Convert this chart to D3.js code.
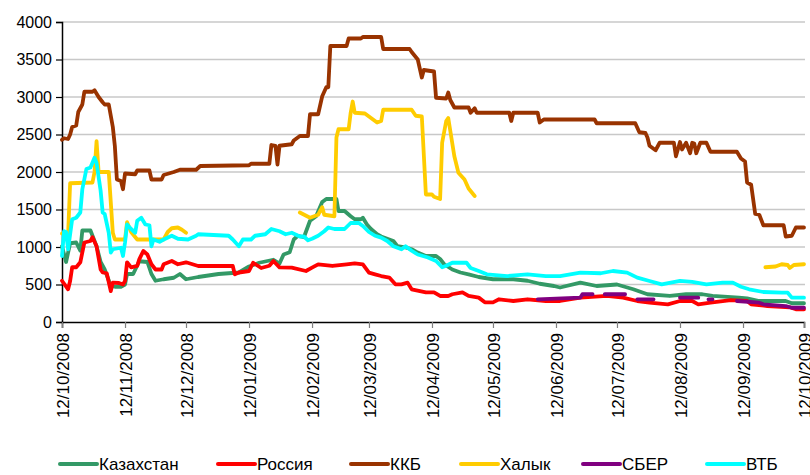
<!DOCTYPE html>
<html>
<head>
<meta charset="utf-8">
<script src="https://cdn.jsdelivr.net/npm/d3@7"></script>
<style>
  body { margin: 0; background: #fff; }
  text { font-family: "Liberation Sans", Arial, sans-serif; fill: #000; }
</style>
</head>
<body>
<script>
// series values, [date, value]; null = no data
const kazakhstan = [
  ["2008-10-12",1010],["2008-10-14",800],["2008-10-16",1050],["2008-10-19",1060],["2008-10-21",950],
  ["2008-10-22",1220],["2008-10-26",1220],["2008-10-27",1150],["2008-10-29",1010],["2008-10-31",800],
  ["2008-11-02",700],["2008-11-05",480],["2008-11-07",470],["2008-11-10",470],["2008-11-12",500],
  ["2008-11-13",640],["2008-11-16",640],["2008-11-19",810],["2008-11-23",800],["2008-11-25",640],
  ["2008-11-27",550],["2008-12-01",570],["2008-12-06",590],["2008-12-09",640],["2008-12-12",570],
  ["2008-12-18",600],["2008-12-28",640],["2009-01-07",660],["2009-01-12",740],["2009-01-17",790],
  ["2009-01-24",830],["2009-01-27",780],["2009-01-29",900],["2009-02-01",930],["2009-02-03",1100],
  ["2009-02-05",1150],["2009-02-08",1130],["2009-02-11",1350],["2009-02-14",1410],["2009-02-17",1600],
  ["2009-02-19",1640],["2009-02-24",1640],["2009-02-25",1480],["2009-02-28",1480],["2009-03-03",1410],
  ["2009-03-05",1370],["2009-03-08",1370],["2009-03-09",1390],["2009-03-11",1300],["2009-03-13",1240],
  ["2009-03-16",1170],["2009-03-18",1140],["2009-03-22",1100],["2009-03-24",1080],["2009-03-26",1010],
  ["2009-03-30",995],["2009-04-02",970],["2009-04-05",925],["2009-04-09",880],["2009-04-14",880],
  ["2009-04-16",840],["2009-04-18",770],["2009-04-22",700],["2009-04-26",660],["2009-04-30",636],
  ["2009-05-05",600],["2009-05-12",570],["2009-05-22",570],["2009-05-29",550],["2009-06-04",510],
  ["2009-06-11",480],["2009-06-14",460],["2009-06-24",525],["2009-07-02",480],["2009-07-12",500],
  ["2009-07-20",436],["2009-07-27",370],["2009-08-07",347],["2009-08-15",370],["2009-08-23",370],
  ["2009-08-28",347],["2009-09-10",325],["2009-09-14",315],["2009-09-20",280],["2009-10-03",280],
  ["2009-10-06",250],["2009-10-12",250]
];
const russia = [
  ["2008-10-12",550],["2008-10-15",436],["2008-10-16",547],["2008-10-17",730],["2008-10-19",730],
  ["2008-10-21",796],["2008-10-23",1060],["2008-10-26",1080],["2008-10-27",1130],["2008-10-29",1010],
  ["2008-10-31",700],["2008-11-01",660],["2008-11-03",650],["2008-11-05",413],["2008-11-06",525],
  ["2008-11-09",520],["2008-11-11",500],["2008-11-12",547],["2008-11-13",796],["2008-11-15",729],
  ["2008-11-18",747],["2008-11-19",836],["2008-11-21",947],["2008-11-23",900],["2008-11-25",770],
  ["2008-11-27",700],["2008-11-30",700],["2008-12-01",770],["2008-12-05",813],["2008-12-08",770],
  ["2008-12-12",796],["2008-12-18",747],["2009-01-04",747],["2009-01-05",636],["2009-01-07",660],
  ["2009-01-12",680],["2009-01-14",790],["2009-01-18",720],["2009-01-22",750],["2009-01-24",813],
  ["2009-01-27",729],["2009-02-02",725],["2009-02-09",680],["2009-02-12",725],["2009-02-15",769],
  ["2009-02-22",747],["2009-03-01",769],["2009-03-05",782],["2009-03-09",769],["2009-03-12",658],
  ["2009-03-15",636],["2009-03-18",613],["2009-03-22",592],["2009-03-25",502],["2009-03-28",502],
  ["2009-03-31",525],["2009-04-02",436],["2009-04-09",395],["2009-04-13",395],["2009-04-16",347],
  ["2009-04-20",347],["2009-04-22",370],["2009-04-27",395],["2009-04-30",347],["2009-05-05",325],
  ["2009-05-08",262],["2009-05-12",262],["2009-05-15",303],["2009-05-22",280],["2009-05-29",303],
  ["2009-06-07",280],["2009-06-14",280],["2009-06-24",325],["2009-07-07",347],["2009-07-15",325],
  ["2009-07-22",280],["2009-07-28",258],["2009-08-06",236],["2009-08-12",280],["2009-08-18",280],
  ["2009-08-21",236],["2009-08-27",258],["2009-09-06",293],["2009-09-14",280],["2009-09-16",236],
  ["2009-09-24",213],["2009-10-05",196],["2009-10-08",170],["2009-10-12",170]
];
const kkb = [
  ["2008-10-12",2430],["2008-10-13",2450],["2008-10-15",2440],["2008-10-16",2500],["2008-10-17",2600],
  ["2008-10-19",2620],["2008-10-20",2800],["2008-10-22",2900],["2008-10-23",3070],["2008-10-27",3070],
  ["2008-10-28",3090],["2008-10-30",3000],["2008-11-01",2930],["2008-11-02",2900],["2008-11-04",2900],
  ["2008-11-06",2600],["2008-11-07",2345],["2008-11-08",1900],["2008-11-10",1880],["2008-11-11",1770],
  ["2008-11-12",1980],["2008-11-17",1970],["2008-11-18",2020],["2008-11-24",2020],["2008-11-25",1900],
  ["2008-11-30",1900],["2008-12-01",1960],["2008-12-06",2000],["2008-12-09",2030],["2008-12-17",2030],
  ["2008-12-19",2080],["2009-01-12",2090],["2009-01-13",2110],["2009-01-22",2110],["2009-01-23",2360],
  ["2009-01-25",2350],["2009-01-26",2100],["2009-01-27",2350],["2009-02-02",2370],["2009-02-03",2420],
  ["2009-02-06",2480],["2009-02-10",2480],["2009-02-11",2770],["2009-02-15",2770],["2009-02-17",3010],
  ["2009-02-19",3130],["2009-02-20",3130],["2009-02-21",3680],["2009-03-01",3680],["2009-03-02",3780],
  ["2009-03-08",3780],["2009-03-09",3800],["2009-03-18",3800],["2009-03-19",3640],["2009-04-01",3640],
  ["2009-04-02",3600],["2009-04-05",3500],["2009-04-07",3260],["2009-04-08",3360],["2009-04-13",3340],
  ["2009-04-14",2990],["2009-04-19",2980],["2009-04-20",3060],["2009-04-21",2960],["2009-04-23",2860],
  ["2009-04-30",2860],["2009-05-01",2790],["2009-05-03",2850],["2009-05-04",2790],["2009-05-20",2790],
  ["2009-05-21",2680],["2009-05-22",2790],["2009-06-03",2790],["2009-06-04",2660],["2009-06-06",2700],
  ["2009-07-01",2700],["2009-07-02",2650],["2009-07-21",2650],["2009-07-23",2530],["2009-07-26",2520],
  ["2009-07-27",2460],["2009-07-28",2350],["2009-07-31",2290],["2009-08-02",2390],["2009-08-09",2390],
  ["2009-08-10",2210],["2009-08-12",2400],["2009-08-13",2300],["2009-08-15",2390],["2009-08-17",2250],
  ["2009-08-18",2390],["2009-08-19",2380],["2009-08-20",2250],["2009-08-22",2390],["2009-08-25",2390],
  ["2009-08-27",2270],["2009-09-09",2270],["2009-09-11",2180],["2009-09-13",2140],["2009-09-14",1860],
  ["2009-09-16",1830],["2009-09-18",1440],["2009-09-20",1430],["2009-09-22",1290],["2009-10-02",1290],
  ["2009-10-03",1140],["2009-10-06",1150],["2009-10-08",1260],["2009-10-12",1260]
];
const halyk = [
  ["2008-10-12",1180],["2008-10-15",1170],["2008-10-16",1850],["2008-10-27",1860],["2008-10-28",2000],
  ["2008-10-29",2410],["2008-10-30",2000],["2008-11-04",2000],["2008-11-06",1190],["2008-11-07",1100],
  ["2008-11-12",1100],["2008-11-13",1330],["2008-11-15",1200],["2008-11-18",1100],["2008-12-01",1100],
  ["2008-12-03",1200],["2008-12-05",1250],["2008-12-08",1260],["2008-12-10",1230],["2008-12-12",1190],
  ["2008-12-13",null],
  ["2009-02-06",1460],["2009-02-11",1390],["2009-02-15",1430],["2009-02-17",1530],["2009-02-18",1430],
  ["2009-02-23",1410],["2009-02-24",2460],["2009-02-25",2570],["2009-03-02",2570],["2009-03-03",2790],
  ["2009-03-04",2940],["2009-03-05",2790],["2009-03-10",2780],["2009-03-12",2740],["2009-03-16",2660],
  ["2009-03-18",2680],["2009-03-19",2830],["2009-04-02",2830],["2009-04-04",2750],["2009-04-07",2740],
  ["2009-04-09",1700],["2009-04-12",1700],["2009-04-13",1670],["2009-04-16",1640],["2009-04-17",2390],
  ["2009-04-19",2680],["2009-04-20",2720],["2009-04-23",2210],["2009-04-25",1990],["2009-04-28",1900],
  ["2009-04-30",1780],["2009-05-03",1680],
  ["2009-05-04",null],
  ["2009-09-23",730],["2009-09-28",740],["2009-10-01",770],["2009-10-04",760],["2009-10-05",720],
  ["2009-10-07",760],["2009-10-12",770]
];
const sber = [
  ["2009-06-03",303],["2009-06-24",325],["2009-06-25",370],["2009-06-30",370],["2009-07-01",null],
  ["2009-07-06",370],["2009-07-16",370],["2009-07-17",null],
  ["2009-07-22",303],["2009-07-30",303],["2009-07-31",null],
  ["2009-08-12",325],["2009-08-21",325],["2009-08-22",null],
  ["2009-08-26",303],["2009-08-28",303],["2009-08-29",null],
  ["2009-09-09",280],["2009-09-20",258],["2009-09-22",236],["2009-10-03",213],["2009-10-06",190],
  ["2009-10-12",190]
];
const vtb = [
  ["2008-10-12",880],["2008-10-13",1210],["2008-10-14",1200],["2008-10-15",970],["2008-10-17",1370],
  ["2008-10-19",1390],["2008-10-21",1460],["2008-10-22",1770],["2008-10-24",2040],["2008-10-26",2060],
  ["2008-10-28",2190],["2008-10-29",2120],["2008-10-31",1750],["2008-11-01",1460],["2008-11-02",1440],
  ["2008-11-04",1190],["2008-11-05",925],["2008-11-06",970],["2008-11-10",990],["2008-11-11",880],
  ["2008-11-12",1060],["2008-11-13",1300],["2008-11-15",1240],["2008-11-17",1190],["2008-11-18",1350],
  ["2008-11-20",1390],["2008-11-22",1300],["2008-11-24",1290],["2008-11-25",1010],["2008-11-26",1100],
  ["2008-11-29",1070],["2008-12-01",1100],["2008-12-05",1150],["2008-12-08",1110],["2008-12-13",1100],
  ["2008-12-17",1150],["2008-12-18",1170],["2009-01-02",1150],["2009-01-04",1100],["2009-01-07",1010],
  ["2009-01-09",1100],["2009-01-13",1100],["2009-01-15",1150],["2009-01-20",1170],["2009-01-23",1240],
  ["2009-01-27",1210],["2009-01-30",1170],["2009-02-02",1190],["2009-02-06",1140],["2009-02-08",1140],
  ["2009-02-10",1090],["2009-02-12",1110],["2009-02-15",1150],["2009-02-18",1210],["2009-02-20",1260],
  ["2009-02-23",1240],["2009-02-28",1240],["2009-03-03",1320],["2009-03-07",1320],["2009-03-09",1280],
  ["2009-03-12",1200],["2009-03-15",1150],["2009-03-18",1125],["2009-03-21",1080],["2009-03-24",1010],
  ["2009-03-28",970],["2009-03-30",1010],["2009-04-02",950],["2009-04-05",900],["2009-04-10",860],
  ["2009-04-14",813],["2009-04-17",730],["2009-04-19",750],["2009-04-22",790],["2009-04-29",790],
  ["2009-05-01",720],["2009-05-05",680],["2009-05-09",636],["2009-05-19",613],["2009-05-29",636],
  ["2009-06-07",613],["2009-06-14",613],["2009-06-24",658],["2009-07-04",650],["2009-07-10",680],
  ["2009-07-17",658],["2009-07-22",592],["2009-07-28",547],["2009-08-03",502],["2009-08-12",547],
  ["2009-08-18",535],["2009-08-25",502],["2009-09-02",525],["2009-09-07",525],["2009-09-11",470],
  ["2009-09-15",436],["2009-09-22",400],["2009-10-01",391],["2009-10-04",391],["2009-10-06",325],
  ["2009-10-12",325]
];

const seriesNames = ["Казахстан", "Россия", "ККБ", "Халык", "СБЕР", "ВТБ"];
const seriesData = [kazakhstan, russia, kkb, halyk, sber, vtb];
const colors = ["#339966", "#FF0000", "#993300", "#FFCC00", "#800080", "#00FFFF"];
const yTicks = [0, 500, 1000, 1500, 2000, 2500, 3000, 3500, 4000];
const xTickDates = ["2008-10-12","2008-11-12","2008-12-12","2009-01-12","2009-02-12","2009-03-12",
  "2009-04-12","2009-05-12","2009-06-12","2009-07-12","2009-08-12","2009-09-12","2009-10-12"];

const width = 810, height = 475;
const margin = {top: 22, right: 6, bottom: 153, left: 62};
const parse = d3.timeParse("%Y-%m-%d");

const svg = d3.select("body").append("svg")
    .attr("width", width)
    .attr("height", height);

const x = d3.scaleTime()
    .domain([parse("2008-10-12"), parse("2009-10-12")])
    .range([margin.left, width - margin.right]);

const y = d3.scaleLinear()
    .domain([0, 4000])
    .range([height - margin.bottom, margin.top]);

// gridlines
svg.append("g")
    .selectAll("line")
    .data(yTicks.slice(1))
    .enter().append("line")
    .attr("x1", margin.left)
    .attr("x2", width - margin.right + 1)
    .attr("y1", d => y(d))
    .attr("y2", d => y(d))
    .attr("stroke", "#c8c8c8")
    .attr("stroke-width", 1.5);

// y axis
const yAxis = svg.append("g")
    .attr("transform", `translate(${margin.left},0)`)
    .call(d3.axisLeft(y).tickValues(yTicks).tickSize(6).tickPadding(4).tickFormat(d3.format("d")));
yAxis.select(".domain").attr("stroke", "#000").attr("stroke-width", 1.5);
yAxis.selectAll(".tick line").attr("stroke", "#000").attr("stroke-width", 1.2);
yAxis.selectAll("text").style("font-size", "16px").attr("fill", "#000");

// x axis
const xAxis = svg.append("g")
    .attr("transform", `translate(0,${y(0)})`)
    .call(d3.axisBottom(x)
        .tickValues(xTickDates.map(parse))
        .tickSize(6)
        .tickFormat(d3.timeFormat("%d/%m/%Y")));
xAxis.select(".domain").attr("stroke", "#000").attr("stroke-width", 1.5);
xAxis.selectAll(".tick line").attr("stroke", "#808080").attr("stroke-width", 1.2);
xAxis.selectAll("text")
    .style("font-size", "17px")
    .attr("fill", "#000")
    .attr("text-anchor", "end")
    .attr("transform", "rotate(-90)")
    .attr("x", -11)
    .attr("y", 0)
    .attr("dy", "0.36em");

// lines
const line = d3.line()
    .defined(d => d[1] !== null)
    .x(d => x(parse(d[0])))
    .y(d => y(d[1]));

svg.append("g")
    .selectAll("path")
    .data(seriesData)
    .enter().append("path")
    .attr("d", line)
    .attr("fill", "none")
    .attr("stroke", (d, i) => colors[i])
    .attr("stroke-width", 3.8)
    .attr("stroke-linejoin", "round")
    .attr("stroke-linecap", "round");

// legend
const legendX = [60, 218, 351, 461, 583, 707];
const legend = svg.append("g")
    .selectAll("g")
    .data(seriesNames)
    .enter().append("g")
    .attr("transform", (d, i) => `translate(${legendX[i]},464)`);

legend.append("line")
    .attr("x1", 0).attr("x2", 37)
    .attr("stroke", (d, i) => colors[i])
    .attr("stroke-width", 4)
    .attr("stroke-linecap", "round");

legend.append("text")
    .attr("x", 39)
    .attr("dy", "0.36em")
    .style("font-size", "17px")
    .text(d => d);
</script>
</body>
</html>
